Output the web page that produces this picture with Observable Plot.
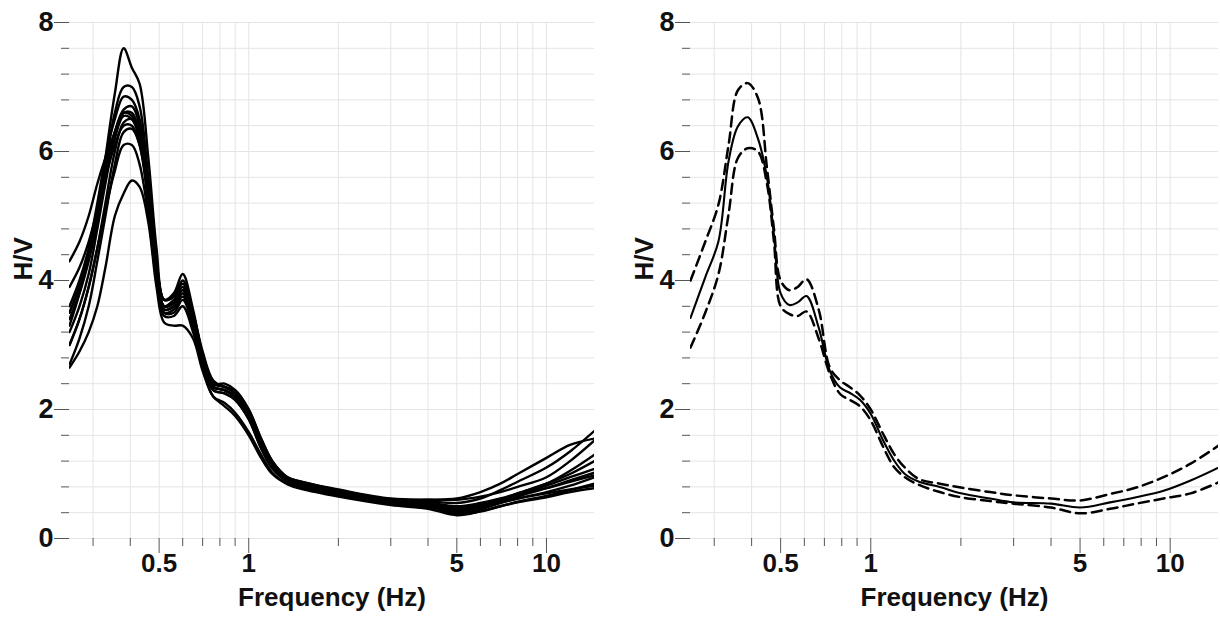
<!DOCTYPE html>
<html><head><meta charset="utf-8">
<script src="https://cdn.jsdelivr.net/npm/d3@7"></script>
<script src="https://cdn.jsdelivr.net/npm/@observablehq/plot@0.6"></script>
<style>
html,body{margin:0;padding:0;background:#fff;}
#wrap{display:flex;width:1220px;height:617px;overflow:hidden;}
svg{display:block}
</style></head><body><div id="wrap"></div>
<script>
// ---- Left panel: individual H/V curves ----
const freqL = [0.25, 0.27, 0.29, 0.31, 0.33, 0.355, 0.38, 0.405, 0.43, 0.46, 0.49, 0.52, 0.56, 0.6, 0.65, 0.7, 0.76, 0.83, 0.9, 1.0, 1.1, 1.2, 1.35, 1.5, 2.0, 3.0, 4.0, 5.0, 6.0, 7.0, 8.0, 10.0, 12.0, 14.5];
const hv01 = [3.5, 3.9, 4.4, 5.0, 5.9, 6.9, 7.6, 7.3, 7.05, 5.9, 4.5, 3.7, 3.75, 3.95, 3.5, 2.9, 2.45, 2.35, 2.3, 2.0, 1.55, 1.2, 0.95, 0.88, 0.75, 0.6, 0.55, 0.45, 0.5, 0.6, 0.7, 0.85, 1.0, 1.2];
const hv02 = [3.3, 3.8, 4.4, 5.1, 5.8, 6.6, 7.0, 7.0, 6.7, 5.6, 4.3, 3.6, 3.7, 3.9, 3.4, 2.8, 2.4, 2.35, 2.25, 1.95, 1.5, 1.15, 0.93, 0.86, 0.74, 0.6, 0.58, 0.55, 0.62, 0.75, 0.88, 1.1, 1.35, 1.67];
const hv03 = [3.6, 4.0, 4.5, 5.2, 5.9, 6.5, 6.85, 6.8, 6.5, 5.5, 4.3, 3.7, 3.8, 4.1, 3.55, 2.85, 2.4, 2.4, 2.3, 2.0, 1.55, 1.2, 0.95, 0.88, 0.76, 0.62, 0.6, 0.6, 0.65, 0.72, 0.8, 0.95, 1.2, 1.52];
const hv04 = [3.4, 3.8, 4.3, 4.9, 5.6, 6.3, 6.65, 6.7, 6.4, 5.4, 4.2, 3.6, 3.65, 3.85, 3.4, 2.8, 2.35, 2.3, 2.2, 1.9, 1.45, 1.12, 0.92, 0.85, 0.72, 0.58, 0.52, 0.45, 0.5, 0.58, 0.68, 0.82, 0.95, 1.08];
const hv05 = [4.3, 4.6, 5.0, 5.5, 5.9, 6.3, 6.6, 6.55, 6.2, 5.2, 4.1, 3.55, 3.6, 3.8, 3.35, 2.75, 2.35, 2.3, 2.2, 1.9, 1.45, 1.12, 0.9, 0.83, 0.7, 0.56, 0.5, 0.4, 0.45, 0.55, 0.62, 0.72, 0.82, 0.95];
const hv06 = [3.2, 3.6, 4.1, 4.8, 5.5, 6.2, 6.55, 6.5, 6.2, 5.3, 4.2, 3.5, 3.55, 3.75, 3.3, 2.75, 2.3, 2.25, 2.15, 1.85, 1.4, 1.1, 0.9, 0.82, 0.7, 0.55, 0.48, 0.38, 0.42, 0.5, 0.57, 0.66, 0.75, 0.85];
const hv07 = [3.0, 3.4, 3.9, 4.5, 5.2, 6.0, 6.45, 6.5, 6.2, 5.3, 4.2, 3.6, 3.65, 3.85, 3.4, 2.8, 2.35, 2.3, 2.2, 1.9, 1.45, 1.12, 0.92, 0.84, 0.72, 0.58, 0.56, 0.5, 0.55, 0.62, 0.7, 0.85, 1.05, 1.3];
const hv08 = [3.9, 4.2, 4.6, 5.1, 5.6, 6.1, 6.4, 6.4, 6.1, 5.2, 4.1, 3.5, 3.5, 3.7, 3.3, 2.75, 2.3, 2.25, 2.15, 1.85, 1.4, 1.08, 0.88, 0.8, 0.68, 0.55, 0.5, 0.42, 0.48, 0.56, 0.65, 0.78, 0.9, 1.02];
const hv09 = [2.7, 3.1, 3.6, 4.3, 5.0, 5.8, 6.3, 6.35, 6.1, 5.3, 4.2, 3.55, 3.6, 3.8, 3.35, 2.8, 2.35, 2.3, 2.2, 1.9, 1.45, 1.1, 0.9, 0.82, 0.7, 0.57, 0.54, 0.48, 0.52, 0.6, 0.68, 0.78, 0.88, 0.98];
const hv10 = [3.0, 3.4, 3.9, 4.5, 5.1, 5.7, 6.1, 6.1, 5.8, 5.0, 4.0, 3.45, 3.45, 3.6, 3.2, 2.65, 2.2, 2.1, 1.95, 1.65, 1.3, 1.02, 0.85, 0.78, 0.66, 0.54, 0.5, 0.44, 0.5, 0.56, 0.62, 0.7, 0.76, 0.82];
const hv11 = [2.65, 2.9, 3.2, 3.6, 4.2, 5.0, 5.35, 5.55, 5.45, 4.9, 3.9, 3.35, 3.3, 3.3, 3.1, 2.6, 2.2, 2.05, 1.9, 1.6, 1.25, 1.0, 0.84, 0.77, 0.65, 0.52, 0.46, 0.36, 0.42, 0.5, 0.56, 0.64, 0.72, 0.78];
const hv12 = [3.5, 3.9, 4.4, 5.0, 5.7, 6.3, 6.6, 6.6, 6.3, 5.4, 4.3, 3.7, 3.75, 4.0, 3.5, 2.85, 2.4, 2.35, 2.25, 1.95, 1.5, 1.15, 0.93, 0.85, 0.73, 0.6, 0.6, 0.62, 0.72, 0.85, 1.0, 1.25, 1.45, 1.55];

// ---- Right panel: mean and mean ± std ----
const freqR = [0.25, 0.28, 0.31, 0.335, 0.36, 0.388, 0.42, 0.45, 0.475, 0.5, 0.535, 0.57, 0.61, 0.67, 0.73, 0.79, 0.85, 0.92, 1.0, 1.1, 1.2, 1.3, 1.45, 1.7, 2.0, 2.5, 3.0, 4.0, 5.0, 6.3, 7.7, 9.5, 11.7, 14.5];
const hvMean  = [3.42, 4.05, 4.61, 5.85, 6.39, 6.53, 6.2, 5.6, 4.7, 3.8, 3.62, 3.66, 3.76, 3.27, 2.6, 2.34, 2.26, 2.15, 1.93, 1.52, 1.2, 1.0, 0.88, 0.8, 0.7, 0.62, 0.56, 0.54, 0.48, 0.56, 0.64, 0.74, 0.9, 1.1];
const hvPlus  = [4.0, 4.6, 5.18, 6.1, 6.95, 7.06, 6.83, 5.75, 4.8, 4.0, 3.85, 3.9, 4.02, 3.55, 2.65, 2.45, 2.35, 2.22, 2.0, 1.62, 1.3, 1.1, 0.92, 0.85, 0.79, 0.72, 0.67, 0.62, 0.59, 0.69, 0.79, 0.95, 1.16, 1.44];
const hvMinus = [2.96, 3.5, 4.1, 5.03, 5.9, 6.05, 6.0, 5.5, 4.6, 3.6, 3.48, 3.45, 3.52, 3.1, 2.55, 2.24, 2.15, 2.05, 1.83, 1.42, 1.1, 0.95, 0.83, 0.72, 0.64, 0.58, 0.54, 0.48, 0.39, 0.46, 0.54, 0.62, 0.7, 0.87];

// ---- Axes ----
const yMajorTicks = [0, 2, 4, 6, 8];
const yTickLabels = ["0", "2", "4", "6", "8"];
const yMinorTicks = [0, 0.4, 0.8, 1.2, 1.6, 2, 2.4, 2.8, 3.2, 3.6, 4, 4.4, 4.8, 5.2, 5.6, 6, 6.4, 6.8, 7.2, 7.6, 8];
const xMajorTicks = [0.5, 1, 5, 10];
const xTickLabels = ["0.5", "1", "5", "10"];
const xMinorTicks = [0.3, 0.4, 0.6, 0.7, 0.8, 0.9, 2, 3, 4, 6, 7, 8, 9];
const xLabel = "Frequency (Hz)";
const yLabel = "H/V";

const curvesL = [hv01, hv02, hv03, hv04, hv05, hv06, hv07, hv08, hv09, hv10, hv11, hv12];
const rowsL = curvesL.flatMap((arr, k) => arr.map((v, i) => ({f: freqL[i], v, id: k})));
const rowsMean = hvMean.map((v, i) => ({f: freqR[i], v}));
const rowsPlus = hvPlus.map((v, i) => ({f: freqR[i], v}));
const rowsMinus = hvMinus.map((v, i) => ({f: freqR[i], v}));
const yLabelRows = yMajorTicks.map((v, i) => ({v, t: yTickLabels[i]}));
const xLabelRows = xMajorTicks.map((f, i) => ({f, t: xTickLabels[i]}));

const FONT = "'Liberation Sans', Arial, Helvetica, sans-serif";

function panel(marginLeft, marginRight, dataMarks) {
  return Plot.plot({
    width: 610,
    height: 617,
    marginTop: 22,
    marginBottom: 79,
    marginLeft,
    marginRight,
    style: {fontFamily: FONT, background: "#fff", color: "#111"},
    x: {type: "log", domain: [0.25, 14.5]},
    y: {domain: [0, 8]},
    marks: [
      Plot.gridY(yMinorTicks, {stroke: "#e4e4e4", strokeOpacity: 1, strokeWidth: 1}),
      Plot.gridX([...xMinorTicks, ...xMajorTicks], {stroke: "#e4e4e4", strokeOpacity: 1, strokeWidth: 1}),
      Plot.axisY(yMinorTicks, {tickSize: 8, tickFormat: () => "", stroke: "#555", label: null}),
      Plot.axisY(yMajorTicks, {tickSize: 15, tickFormat: () => "", stroke: "#555", label: null}),
      Plot.axisX(xMinorTicks, {tickSize: 8, tickFormat: () => "", stroke: "#555", label: null}),
      Plot.axisX(xMajorTicks, {tickSize: 15, tickFormat: () => "", stroke: "#555", label: null}),
      Plot.text(yLabelRows, {y: "v", text: "t", frameAnchor: "left", dx: -16, textAnchor: "end", fontSize: 27, fontWeight: "bold", fill: "#111"}),
      Plot.text(xLabelRows, {x: "f", text: "t", frameAnchor: "bottom", dy: 33, fontSize: 26, fontWeight: "bold", fill: "#111"}),
      ...dataMarks,
      Plot.text([yLabel], {frameAnchor: "left", dx: -46, rotate: -90, text: d => d, fontSize: 26, fontWeight: "bold", fill: "#111"}),
      Plot.text([xLabel], {frameAnchor: "bottom", dy: 67, text: d => d, fontSize: 26, fontWeight: "bold", fill: "#111"})
    ]
  });
}

const left = panel(69, 16, [
  Plot.line(rowsL, {x: "f", y: "v", z: "id", stroke: "#000", strokeWidth: 2.4, curve: "catmull-rom", clip: true})
]);
const right = panel(80, 2, [
  Plot.line(rowsPlus, {x: "f", y: "v", stroke: "#000", strokeWidth: 2.5, strokeDasharray: "10,6", curve: "catmull-rom", clip: true}),
  Plot.line(rowsMinus, {x: "f", y: "v", stroke: "#000", strokeWidth: 2.5, strokeDasharray: "10,6", curve: "catmull-rom", clip: true}),
  Plot.line(rowsMean, {x: "f", y: "v", stroke: "#000", strokeWidth: 2.1, curve: "catmull-rom", clip: true})
]);
const wrap = document.getElementById("wrap");
wrap.appendChild(left);
wrap.appendChild(right);
</script>
</body></html>
